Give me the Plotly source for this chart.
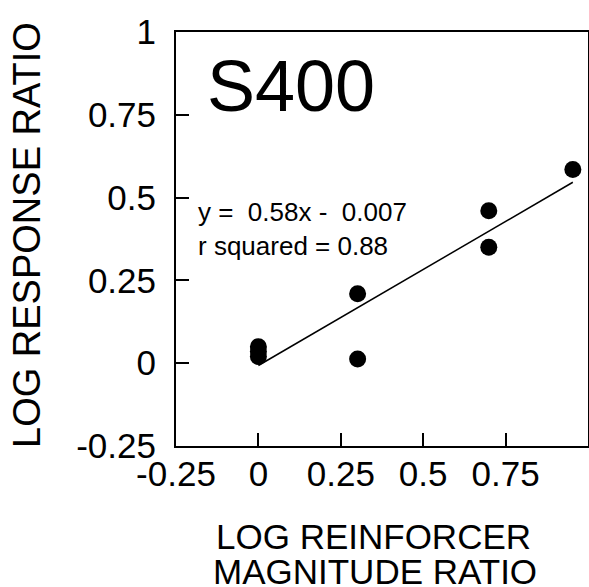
import plotly.graph_objects as go

# Data
log_mag_ratio = [0.0, 0.0, 0.0, 0.301, 0.301, 0.699, 0.699, 0.954]
log_resp_ratio = [0.05, 0.035, 0.02, 0.21, 0.013, 0.46, 0.35, 0.585]
slope = 0.58
intercept = -0.007
fit_x = [0.0, 0.954]
tick_vals = [-0.25, 0, 0.25, 0.5, 0.75, 1]
tick_text = ["-0.25", "0", "0.25", "0.5", "0.75", "1"]

fit_y = [slope * v + intercept for v in fit_x]

FONT = "Liberation Sans, Arial, sans-serif"
NB = "\u00a0"

fig = go.Figure()
fig.add_trace(go.Scatter(x=fit_x, y=fit_y, mode="lines",
                         line=dict(color="black", width=1.5), showlegend=False))
fig.add_trace(go.Scatter(x=log_mag_ratio, y=log_resp_ratio, mode="markers",
                         marker=dict(color="black", size=17), showlegend=False))

axis_common = dict(
    range=[-0.25, 1], tickvals=tick_vals, ticktext=tick_text,
    ticks="inside", ticklen=13, tickwidth=1.5, tickcolor="black",
    showline=True, linecolor="black", linewidth=2, mirror=True,
    showgrid=False, zeroline=False, automargin=False,
    tickfont=dict(family=FONT, size=35, color="black"),
)
fig.update_xaxes(**axis_common, ticklabelstandoff=-4)
fig.update_yaxes(**axis_common, ticklabelstandoff=11)

eq_text = f"y ={NB} {slope}x -{NB} {abs(intercept)}<br>r squared = 0.88"

fig.update_layout(
    width=589, height=587,
    margin=dict(l=176, r=1, t=32, b=141),
    plot_bgcolor="white", paper_bgcolor="white",
    font=dict(family=FONT, color="black"),
    annotations=[
        dict(text="S400", xref="paper", yref="paper",
             x=(205 - 176) / 412, y=(446 - 86) / 414, xanchor="left", yanchor="middle",
             showarrow=False, font=dict(size=72, family=FONT, color="black")),
        dict(text=eq_text, xref="paper", yref="paper",
             x=(196 - 176) / 412, y=(446 - 229) / 414, xanchor="left", yanchor="middle",
             align="left", showarrow=False, font=dict(size=26, family=FONT, color="black")),
        dict(text="LOG RESPONSE RATIO", xref="paper", yref="paper", textangle=-90,
             x=(27 - 176) / 412, y=(446 - 235) / 414, xanchor="center", yanchor="middle",
             showarrow=False, font=dict(size=38, family=FONT, color="black")),
        dict(text="LOG REINFORCER", xref="paper", yref="paper",
             x=(373 - 176) / 412, y=(446 - 536) / 414, xanchor="center", yanchor="middle",
             showarrow=False, font=dict(size=35, family=FONT, color="black")),
        dict(text="MAGNITUDE RATIO", xref="paper", yref="paper",
             x=(375 - 176) / 412, y=(446 - 571) / 414, xanchor="center", yanchor="middle",
             showarrow=False, font=dict(size=35, family=FONT, color="black")),
    ],
)

fig.write_html("out.html", config={"displayModeBar": False},
               post_script="document.body.style.margin='0';")
